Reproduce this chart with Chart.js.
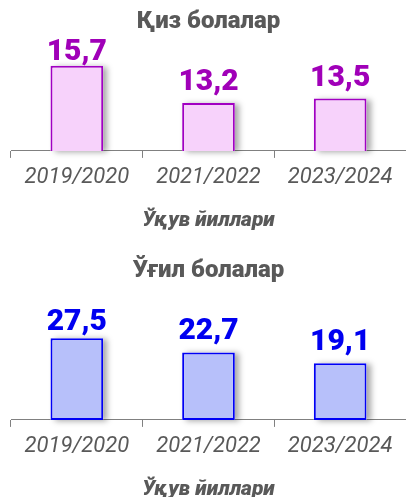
<!DOCTYPE html>
<html>
<head>
<meta charset="utf-8">
<script src="https://cdn.jsdelivr.net/npm/chart.js@4.4.1/dist/chart.umd.min.js"></script>
<style>
  html, body { margin: 0; padding: 0; background: #fff; overflow: hidden; }
  .box { position: absolute; left: 0; width: 406px; }
  #topBox { top: 0; height: 243px; }
  #bottomBox { top: 249px; height: 263px; }
</style>
</head>
<body>
<div class="box" id="topBox"><canvas id="girlsChart"></canvas></div>
<div class="box" id="bottomBox"><canvas id="boysChart"></canvas></div>
<script>
var years = ['2019/2020', '2021/2022', '2023/2024'];
var girlsValues = [15.7, 13.2, 13.5];
var boysValues = [27.5, 22.7, 19.1];
var girlsTitle = 'Қиз болалар';
var boysTitle = 'Ўғил болалар';
var axisTitle = 'Ўқув йиллари';

var textGrey = '#595959';

// soft grey shadow behind each bar
var barShadow = {
    id: 'barShadow',
    beforeDatasetsDraw: function(chart) {
        var ctx = chart.ctx;
        var bottom = chart.chartArea.bottom;
        chart.getDatasetMeta(0).data.forEach(function(bar) {
            var w = bar.width;
            var base = Math.min(bar.base, bottom);
            ctx.save();
            ctx.shadowColor = 'rgba(0,0,0,0.35)';
            ctx.shadowBlur = 6;
            ctx.shadowOffsetX = 4;
            ctx.shadowOffsetY = 1;
            ctx.fillStyle = '#ffffff';
            ctx.fillRect(bar.x - w / 2, bar.y, w, base - bar.y);
            ctx.restore();
        });
    }
};

// value labels above bars, kept inside the plot area
var valueLabels = {
    id: 'valueLabels',
    afterDatasetsDraw: function(chart) {
        var ctx = chart.ctx;
        var ds = chart.data.datasets[0];
        var size = 30;
        var cap = size * 0.71;
        ctx.save();
        ctx.font = '900 ' + size + 'px Roboto';
        ctx.fillStyle = ds.labelColor;
        ctx.textAlign = 'center';
        ctx.textBaseline = 'alphabetic';
        chart.getDatasetMeta(0).data.forEach(function(bar, i) {
            var y = bar.y - 13;
            if (y - cap < chart.chartArea.top) y = chart.chartArea.top + cap;
            ctx.fillText(ds.data[i].toFixed(1).replace('.', ','), bar.x, y);
        });
        ctx.restore();
    }
};

function makeChart(id, title, values, fill, border, labelColor, yMin, yMax, titleGap) {
    return new Chart(document.getElementById(id), {
        type: 'bar',
        data: {
            labels: years,
            datasets: [{
                data: values,
                backgroundColor: fill,
                borderColor: border,
                borderWidth: 2,
                borderSkipped: false,
                barPercentage: 0.4,
                categoryPercentage: 1,
                labelColor: labelColor
            }]
        },
        options: {
            responsive: true,
            maintainAspectRatio: false,
            animation: false,
            layout: { padding: { left: 11, right: 0, top: 0, bottom: 6 } },
            plugins: {
                legend: { display: false },
                tooltip: { enabled: false },
                title: {
                    display: true,
                    text: title,
                    color: textGrey,
                    font: { family: 'Roboto', size: 24, weight: '900' },
                    padding: { top: 8, bottom: titleGap }
                }
            },
            scales: {
                x: {
                    offset: true,
                    grid: {
                        offset: true,
                        drawOnChartArea: false,
                        drawTicks: true,
                        tickLength: 7,
                        color: '#808080'
                    },
                    border: { display: true, color: '#808080', width: 1 },
                    ticks: {
                        color: textGrey,
                        padding: 6.5,
                        font: { family: 'Roboto', size: 22, style: 'italic' }
                    },
                    title: {
                        display: true,
                        text: axisTitle,
                        color: textGrey,
                        font: { family: 'Roboto', size: 21, weight: '900', style: 'italic' },
                        padding: { top: 10.5, bottom: 4 }
                    }
                },
                y: {
                    display: false,
                    min: yMin,
                    max: yMax
                }
            }
        },
        plugins: [barShadow, valueLabels]
    });
}

makeChart('girlsChart', girlsTitle, girlsValues, '#F7D2FB', '#A100C2', '#A000B8', 10, 17.5, 2);
makeChart('boysChart', boysTitle, boysValues, '#B7C0FA', '#0000F5', '#0000F0', 0, 37.4, 23);
</script>
</body>
</html>
